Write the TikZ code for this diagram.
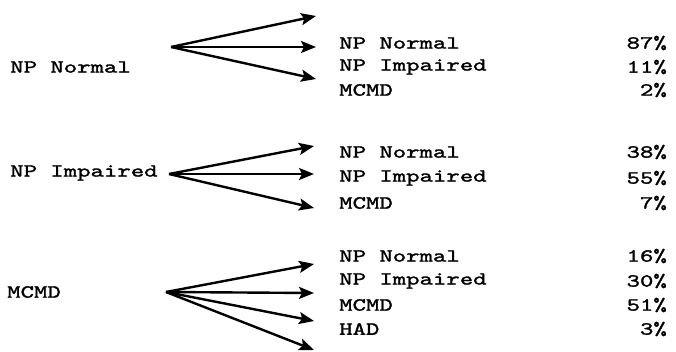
\documentclass[tikz,border=0pt]{standalone}
\usepackage{fontspec}
\newfontfamily\courfont[FakeStretch=1.38,FakeBold=1.6]{lmmono10-regular.otf}
\usetikzlibrary{arrows.meta}
\tikzset{
  lbl/.style={font=\courfont\fontsize{18.5}{18.5}\selectfont, inner sep=0pt, anchor=west},
  pct/.style={font=\courfont\fontsize{18.5}{18.5}\selectfont, inner sep=0pt, anchor=east},
  fan/.style={line width=2.4pt, -{Stealth[length=15pt,width=12pt,inset=3pt]}},
}
\begin{document}
\begin{tikzpicture}[x=1pt,y=-1pt]
\useasboundingbox (0,0) rectangle (676,352);
% group 1
\node[lbl] (s1) at (10,67) {NP Normal};
\coordinate (o1) at (171,47);
\coordinate (e11) at (316,16);
\coordinate (e12) at (316,47);
\coordinate (e13) at (316,79);
\draw[fan] (o1) -- (e11);
\draw[fan] (o1) -- (e12);
\draw[fan] (o1) -- (e13);
\node[lbl] (t11) at (339,43) {NP Normal};
\node[lbl] (t12) at (339,67) {NP Impaired};
\node[lbl] (t13) at (339,90) {MCMD};
\node[pct] (p11) at (667,43) {87\%};
\node[pct] (p12) at (667,67) {11\%};
\node[pct] (p13) at (667,90) {2\%};
% group 2
\node[lbl] (s2) at (10,173) {NP Impaired};
\coordinate (o2) at (169,174);
\coordinate (e21) at (314,146);
\coordinate (e22) at (314,174);
\coordinate (e23) at (314,208);
\draw[fan] (o2) -- (e21);
\draw[fan] (o2) -- (e22);
\draw[fan] (o2) -- (e23);
\node[lbl] (t21) at (339,152) {NP Normal};
\node[lbl] (t22) at (339,178) {NP Impaired};
\node[lbl] (t23) at (339,203) {MCMD};
\node[pct] (p21) at (667,152) {38\%};
\node[pct] (p22) at (667,178) {55\%};
\node[pct] (p23) at (667,203) {7\%};
% group 3
\node[lbl] (s3) at (7,292) {MCMD};
\coordinate (o3) at (166,292);
\coordinate (e31) at (314,264);
\coordinate (e32) at (314,293);
\coordinate (e33) at (314,321);
\coordinate (e34) at (314,350);
\draw[fan] (o3) -- (e31);
\draw[fan] (o3) -- (e32);
\draw[fan] (o3) -- (e33);
\draw[fan] (o3) -- (e34);
\node[lbl] (t31) at (339,256) {NP Normal};
\node[lbl] (t32) at (339,281) {NP Impaired};
\node[lbl] (t33) at (339,305) {MCMD};
\node[lbl] (t34) at (339,329) {HAD};
\node[pct] (p31) at (667,256) {16\%};
\node[pct] (p32) at (667,281) {30\%};
\node[pct] (p33) at (667,305) {51\%};
\node[pct] (p34) at (667,329) {3\%};
\end{tikzpicture}
\end{document}
